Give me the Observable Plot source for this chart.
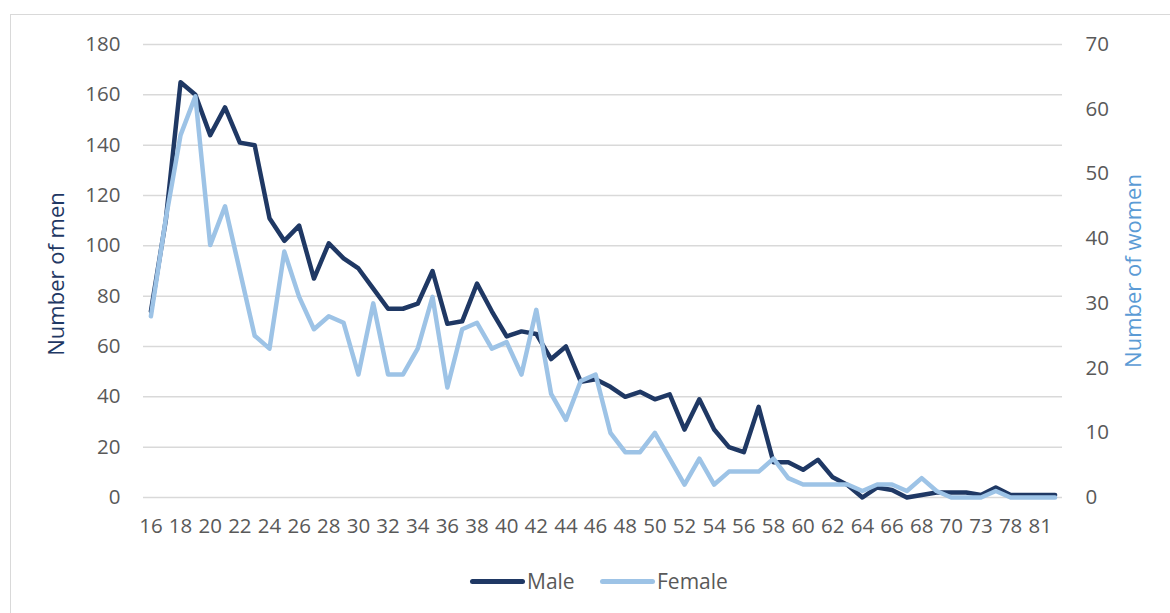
<!DOCTYPE html>
<html>
<head>
<meta charset="utf-8">
<script src="https://cdn.jsdelivr.net/npm/d3@7"></script>
<script src="https://cdn.jsdelivr.net/npm/@observablehq/plot@0.6"></script>
<style>
  html, body { margin: 0; padding: 0; background: #ffffff; }
  body { width: 1170px; height: 613px; position: relative; overflow: hidden; font-family: "Open Sans", sans-serif; }
  #frame { position: absolute; left: 10px; top: 14px; width: 1200px; height: 700px; border: 1px solid #d9d9d9; box-sizing: border-box; }
  #chart { position: absolute; left: 0; top: 0; }
  #legend { position: absolute; left: 0; top: 566px; width: 1170px; height: 30px; }
  .item { position: absolute; top: 0; display: flex; align-items: center; height: 30px; font-size: 21px; color: #595959; }
  .sw { width: 55px; height: 5px; border-radius: 3px; margin-right: 2px; }
</style>
</head>
<body>
<div id="frame"></div>
<div id="chart"></div>
<div id="legend">
  <div class="item" style="left:470px"><div class="sw" style="background:#1f3864"></div><span>Male</span></div>
  <div class="item" style="left:600px"><div class="sw" style="background:#9dc3e6"></div><span>Female</span></div>
</div>
<script>
const ages = ["16","17","18","19","20","21","22","23","24","25","26","27","28","29","30","31","32","33","34","35","36","37","38","39","40","41","42","43","44","45","46","47","48","49","50","51","52","53","54","55","56","57","58","59","60","61","62","63","64","65","66","67","68","69","70","72","73","75","78","79","81","83"];
const male = [74,110,165,160,144,155,141,140,111,102,108,87,101,95,91,83,75,75,77,90,69,70,85,74,64,66,65,55,60,46,47,44,40,42,39,41,27,39,27,20,18,36,14,14,11,15,8,5,0,4,3,0,1,2,2,2,1,4,1,1,1,1];
const female = [28,43,56,62,39,45,35,25,23,38,31,26,28,27,19,30,19,19,23,31,17,26,27,23,24,19,29,16,12,18,19,10,7,7,10,6,2,6,2,4,4,4,6,3,2,2,2,2,1,2,2,1,3,1,0,0,0,1,0,0,0,0];
const menTicks = [0,20,40,60,80,100,120,140,160,180];
const womenTicks = [0,10,20,30,40,50,60,70];
const menMax = 180, womenMax = 70;

const ratio = menMax / womenMax;
const data = ages.map((a, i) => ({age: a, male: male[i], female: female[i] * ratio}));
const xLabels = ages.filter((a, i) => i % 2 === 0);

const chart = Plot.plot({
  width: 1170,
  height: 560,
  marginLeft: 143,
  marginRight: 108,
  marginTop: 44,
  marginBottom: 63,
  style: {fontFamily: "'Open Sans', sans-serif", fontSize: "20.5px", color: "#595959", background: "transparent", overflow: "visible"},
  x: {type: "point", domain: ages, padding: 0.5},
  y: {domain: [0, menMax]},
  marks: [
    Plot.gridY(menTicks, {stroke: "#d9d9d9", strokeOpacity: 1, strokeWidth: 1.5}),
    Plot.axisY(menTicks, {anchor: "left", tickSize: 0, tickPadding: 23, label: null, fill: "#595959"}),
    Plot.axisY(womenTicks.map(v => v * ratio), {anchor: "right", tickSize: 0, tickPadding: 23, label: null, fill: "#595959", tickFormat: d => String(Math.round(d / ratio))}),
    Plot.axisX(xLabels, {tickSize: 0, tickPadding: 21, label: null, fill: "#595959"}),
    Plot.lineY(data, {x: "age", y: "male", stroke: "#1f3864", strokeWidth: 4.5, strokeLinejoin: "round", strokeLinecap: "round"}),
    Plot.lineY(data, {x: "age", y: "female", stroke: "#9dc3e6", strokeWidth: 4.5, strokeLinejoin: "round", strokeLinecap: "round"}),
    Plot.text(["Number of men"], {frameAnchor: "left", dx: -87, dy: 3, rotate: -90, textAnchor: "middle", fill: "#1f3864", fontSize: 22}),
    Plot.text(["Number of women"], {frameAnchor: "right", dx: 71, rotate: -90, textAnchor: "middle", fill: "#5b9bd5", fontSize: 22})
  ]
});
document.getElementById("chart").appendChild(chart);
</script>
</body>
</html>
